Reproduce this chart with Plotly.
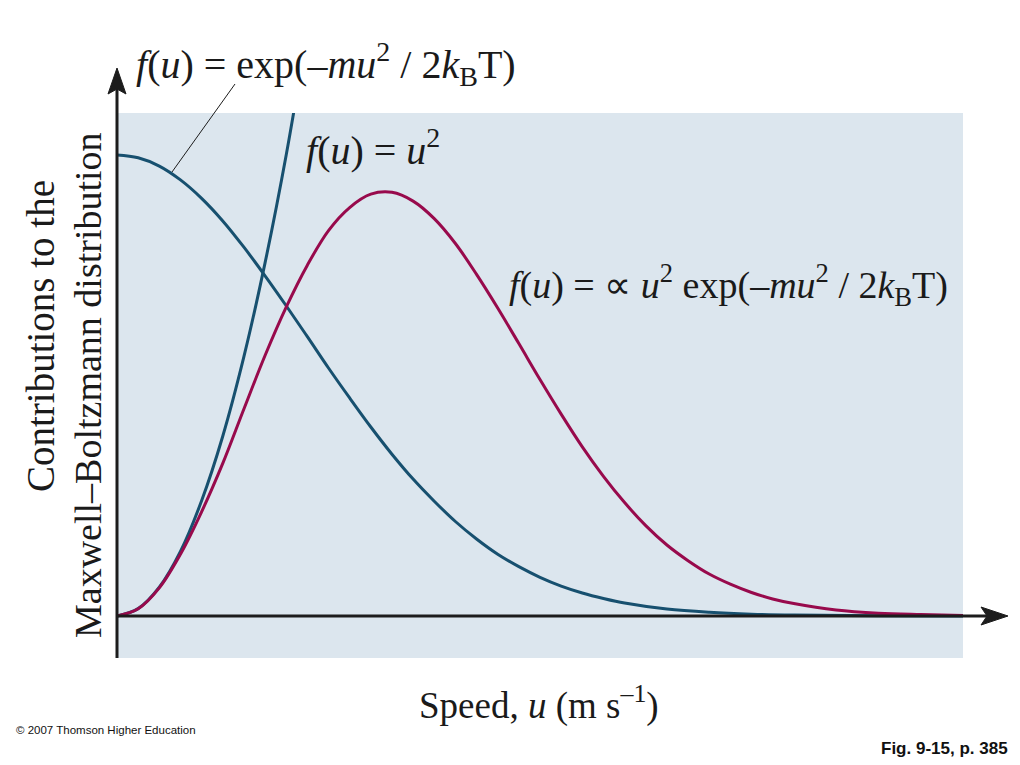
import plotly.graph_objects as go

# ---- data (speed in arbitrary units, contribution relative to exp curve at u=0)
u_exp = [0, 0.25, 0.5, 0.75, 1, 1.25, 1.5, 1.75, 2, 2.25, 2.5, 2.75, 3, 3.25, 3.5, 3.75, 4,
         4.25, 4.5, 4.75, 5, 5.25, 5.5, 5.75, 6, 6.5, 7, 7.5, 8, 9, 10]
f_exp = [1.0, 0.994, 0.976, 0.946, 0.906, 0.857, 0.80, 0.738, 0.673, 0.606, 0.538, 0.473,
         0.41, 0.351, 0.297, 0.249, 0.205, 0.167, 0.134, 0.107, 0.084, 0.065, 0.050, 0.038,
         0.028, 0.015, 0.008, 0.004, 0.002, 0.0005, 0.0001]

u_sq = [0, 0.25, 0.5, 0.75, 1.0, 1.25, 1.5, 1.75, 2.0, 2.25]
f_sq = [0, 0.016, 0.0625, 0.14, 0.25, 0.39, 0.5625, 0.766, 1.0, 1.27]

u_mb = [0, 0.25, 0.5, 0.75, 1, 1.25, 1.5, 1.75, 2, 2.25, 2.5, 2.75, 3, 3.25, 3.5, 3.75, 4,
        4.25, 4.5, 4.75, 5, 5.25, 5.5, 5.75, 6, 6.25, 6.5, 6.75, 7, 7.25, 7.5, 7.75, 8,
        8.5, 9, 9.5, 10]
f_mb = [0, 0.0156, 0.061, 0.134, 0.226, 0.331, 0.449, 0.565, 0.670, 0.761, 0.836, 0.886,
        0.915, 0.919, 0.900, 0.862, 0.808, 0.741, 0.668, 0.591, 0.513, 0.438, 0.367, 0.303,
        0.246, 0.196, 0.154, 0.120, 0.091, 0.069, 0.051, 0.037, 0.027,
        0.013, 0.006, 0.003, 0.001]

BLUE = "#17506f"
MAROON = "#980a4c"
BG = "#dce6ee"
INK = "#1c1c1c"

OFF = 8  # page body margin
FW, FH = 1020 - OFF, 765 - OFF
# plot area in page pixels
L, R, T, B = 117, 963, 113, 658
W, H = R - L, B - T


def px(x):
    return (x - L) / W


def py(y):
    return (B - y) / H


fig = go.Figure()
fig.add_trace(go.Scatter(x=u_exp, y=f_exp, mode="lines",
                         line=dict(color=BLUE, width=3, shape="spline", smoothing=1), hoverinfo="skip"))
fig.add_trace(go.Scatter(x=u_sq, y=f_sq, mode="lines",
                         line=dict(color=BLUE, width=3, shape="spline", smoothing=1), hoverinfo="skip"))
fig.add_trace(go.Scatter(x=u_mb, y=f_mb, mode="lines",
                         line=dict(color=MAROON, width=3, shape="spline", smoothing=1), hoverinfo="skip"))

shapes = []
# y axis line + arrow
shapes.append(dict(type="line", xref="paper", yref="paper", x0=px(117), x1=px(117), y0=py(658), y1=py(85),
                   line=dict(color=INK, width=3)))
shapes.append(dict(type="path", xref="paper", yref="paper", fillcolor=INK, line=dict(color=INK, width=1),
                   path=f"M {px(117)} {py(68)} L {px(126)} {py(94)} L {px(117)} {py(89)} L {px(108)} {py(94)} Z"))
# x axis line + arrow
shapes.append(dict(type="line", xref="paper", yref="paper", x0=px(116), x1=px(990), y0=py(616), y1=py(616),
                   line=dict(color=INK, width=3)))
shapes.append(dict(type="path", xref="paper", yref="paper", fillcolor=INK, line=dict(color=INK, width=1),
                   path=f"M {px(1008)} {py(616)} L {px(981)} {py(625)} L {px(987)} {py(616)} L {px(981)} {py(607)} Z"))
# leader line for the exp label
shapes.append(dict(type="line", xref="paper", yref="paper", x0=px(172), x1=px(235), y0=py(172), y1=py(84),
                   line=dict(color=INK, width=1)))

SERIF = "Liberation Serif, Times New Roman, serif"
ann = []
ann.append(dict(text="<i>f</i>(<i>u</i>) = exp(–<i>mu</i><sup>2</sup> / 2<i>k</i><sub>B</sub>T)",
                x=px(134), y=py(64), xanchor="left", yanchor="middle", size=40))
ann.append(dict(text="<i>f</i>(<i>u</i>) = <i>u</i><sup>2</sup>",
                x=px(304), y=py(147), xanchor="left", yanchor="middle", size=40))
ann.append(dict(text="<i>f</i>(<i>u</i>) = ∝ <i>u</i><sup>2</sup> exp(–<i>mu</i><sup>2</sup> / 2<i>k</i><sub>B</sub>T)",
                x=px(507), y=py(285), xanchor="left", yanchor="middle", size=38))
ann.append(dict(text="Speed, <i>u</i> (m s<sup>–1</sup>)",
                x=px(539), y=py(703), xanchor="center", yanchor="middle", size=37))
ann.append(dict(text="Contributions to the", textangle=-90,
                x=px(40), y=py(336), xanchor="center", yanchor="middle", size=39))
ann.append(dict(text="Maxwell–Boltzmann distribution", textangle=-90,
                x=px(88), y=py(130), xanchor="center", yanchor="top", size=38))
for a in ann:
    s = a.pop("size")
    a.update(xref="paper", yref="paper", showarrow=False, font=dict(family=SERIF, size=s, color="#1a1a1a"))

ann.append(dict(text="© 2007 Thomson Higher Education", xref="paper", yref="paper", showarrow=False,
                x=px(14), y=py(730), xanchor="left", yanchor="middle",
                font=dict(family="Liberation Sans Narrow, Liberation Sans, Arial, sans-serif", size=11.5, color="#111")))
ann.append(dict(text="<b>Fig. 9-15, p. 385</b>", xref="paper", yref="paper", showarrow=False,
                x=px(1010), y=py(748), xanchor="right", yanchor="middle",
                font=dict(family="Liberation Sans Narrow, Liberation Sans, Arial, sans-serif", size=17, color="#111")))

fig.update_layout(
    width=FW, height=FH,
    margin=dict(l=L - OFF, r=FW - (R - OFF), t=T - OFF, b=FH - (B - OFF), pad=0),
    paper_bgcolor="white", plot_bgcolor=BG,
    showlegend=False,
    xaxis=dict(range=[0, W / 84.6], visible=False, fixedrange=True),
    yaxis=dict(range=[-(B - 616) / 461, (616 - T) / 461], visible=False, fixedrange=True),
    shapes=shapes, annotations=ann,
)

fig.write_html("out.html")
